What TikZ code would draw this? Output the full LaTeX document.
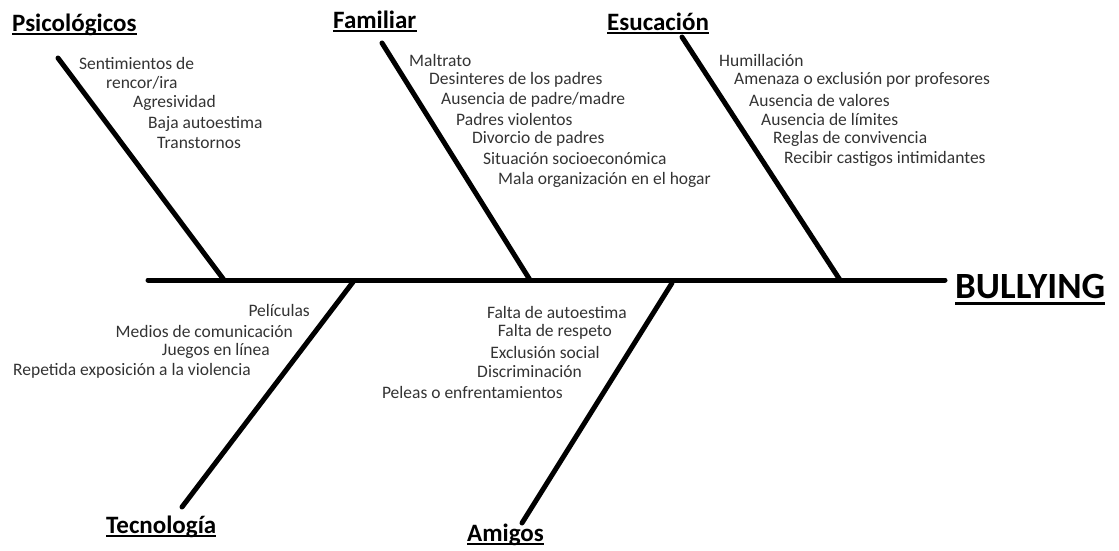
\documentclass[tikz,border=0pt]{standalone}
\usepackage{fontspec}
\setmainfont{Carlito}
\usetikzlibrary{calc}
\begin{document}
\begin{tikzpicture}[x=1pt,y=-1pt,
  bone/.style={line width=5pt,line cap=round,black},
  item/.style={font=\fontsize{17.5}{20}\selectfont,text=black!80,inner sep=0pt,anchor=west},
  itemr/.style={item,anchor=east},
  title/.style={font=\fontsize{25}{29}\selectfont\bfseries,inner sep=0pt,anchor=base west},
  big/.style={font=\fontsize{37}{42}\selectfont\bfseries,inner sep=0pt,anchor=base west},
  uline/.style={line width=2pt,black}]
\useasboundingbox (0,0) rectangle (1119,550);
% spine
\coordinate (spL) at (148,280);
\coordinate (spR) at (945,280);
\draw[bone] (spL) -- (spR);
% branches
\coordinate (pT) at (58,58);   \coordinate (pB) at (224,280);
\coordinate (fT) at (382,43);  \coordinate (fB) at (530,280);
\coordinate (eT) at (682,37);  \coordinate (eB) at (840,280);
\coordinate (tT) at (353,282); \coordinate (tB) at (182,507);
\coordinate (aT) at (672,283); \coordinate (aB) at (522,523);
\draw[bone] (pT) -- (pB);
\draw[bone] (fT) -- (fB);
\draw[bone] (eT) -- (eB);
\draw[bone] (tT) -- (tB);
\draw[bone] (aT) -- (aB);
% titles
\node[title] (psi) at (12,31) {Psicológicos};
\node[title] (fam) at (333,28) {Familiar};
\node[title] (edu) at (607,30) {Esucación};
\node[title] (tec) at (106,533) {Tecnología};
\node[title] (ami) at (467,541) {Amigos};
\node[big] (bul) at (955,298) {BULLYING};
% underlines
\foreach \n in {psi,fam,edu,tec,ami}
  \draw[uline] ($(\n.base west)+(0,3)$) -- ($(\n.base east)+(0,3)$);
\draw[line width=3pt] ($(bul.base west)+(0,5)$) -- ($(bul.base east)+(0,5)$);
% Psicologicos items
\node[item] (p1) at (79,63) {Sentimientos de};
\node[item] (p2) at (106,83) {rencor/ira};
\node[item] (p3) at (133,103) {Agresividad};
\node[item] (p4) at (148,124) {Baja autoestima};
\node[item] (p5) at (157,143) {Transtornos};
% Familiar items
\node[item] (f1) at (409,60) {Maltrato};
\node[item] (f2) at (429,80) {Desinteres de los padres};
\node[item] (f3) at (441,100) {Ausencia de padre/madre};
\node[item] (f4) at (456,119) {Padres violentos};
\node[item] (f5) at (472,139) {Divorcio de padres};
\node[item] (f6) at (483,159) {Situación socioeconómica};
\node[item] (f7) at (498,180) {Mala organización en el hogar};
% Educacion items
\node[item] (e1) at (719,60) {Humillación};
\node[item] (e2) at (734,80) {Amenaza o exclusión por profesores};
\node[item] (e3) at (749,100) {Ausencia de valores};
\node[item] (e4) at (761,119) {Ausencia de límites};
\node[item] (e5) at (773,139) {Reglas de convivencia};
\node[item] (e6) at (784,159) {Recibir castigos intimidantes};
% Tecnologia items
\node[itemr] (t1) at (310,310) {Películas};
\node[itemr] (t2) at (293,331) {Medios de comunicación};
\node[itemr] (t3) at (270,351) {Juegos en línea};
\node[itemr] (t4) at (251,371) {Repetida exposición a la violencia};
% Amigos items
\node[itemr] (a1) at (627,312) {Falta de autoestima};
\node[itemr] (a2) at (612,332) {Falta de respeto};
\node[itemr] (a3) at (600,352) {Exclusión social};
\node[itemr] (a4) at (582,372) {Discriminación};
\node[itemr] (a5) at (563,392) {Peleas o enfrentamientos};
\end{tikzpicture}
\end{document}
